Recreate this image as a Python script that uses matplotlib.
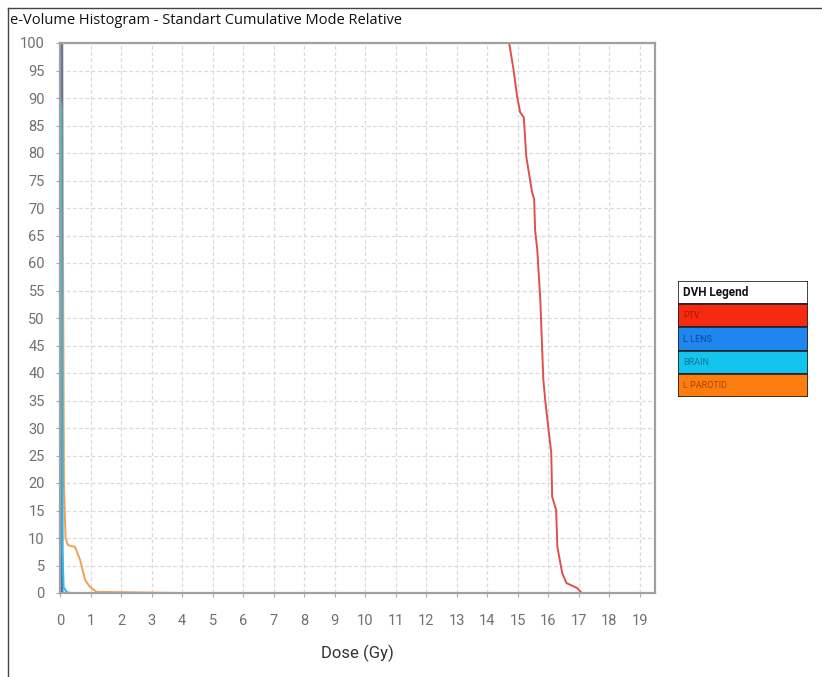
import matplotlib
matplotlib.use("Agg")
import matplotlib.pyplot as plt
from matplotlib.lines import Line2D
from matplotlib.patches import Rectangle

# Dose (Gy) / volume (%) points
ptv_dose = [14.72, 14.86, 14.98, 15.08, 15.2, 15.28, 15.47, 15.54, 15.57, 15.64,
            15.74, 15.84, 15.9, 16.0, 16.1, 16.13, 16.26, 16.3, 16.46, 16.6, 16.95, 17.1]
ptv_vol = [100, 95.3, 90.3, 87.4, 86.5, 79.4, 72.9, 71.6, 66, 62.5,
           53.4, 38.8, 35.2, 30.2, 25.5, 17.5, 15.1, 8.4, 3.6, 1.8, 0.9, 0]

lens_dose = [0.0, 0.05, 0.07, 0.3]
lens_vol = [100, 100, 0, 0]

brain_dose = [0.0, 0.05, 0.08, 0.12, 0.25]
brain_vol = [90, 88, 8, 1, 0]

parotid_dose = [0.08, 0.1, 0.13, 0.18, 0.26, 0.49, 0.66, 0.82, 0.98, 1.2, 4.0]
parotid_vol = [100, 60, 20, 10, 8.7, 8.4, 6.0, 2.4, 1.1, 0.2, 0]

legend_names = ["PTV", "L LENS", "BRAIN", "L PAROTID"]
legend_colors = ["#f52a10", "#1f86f0", "#14c4ee", "#ff7c10"]
legend_text_colors = ["#b01800", "#0a4a9a", "#0a7a9a", "#a84a00"]

x_ticks = list(range(0, 20))
y_ticks = list(range(0, 101, 5))

NARROW = ["Roboto", "DejaVu Sans"]

fig = plt.figure(figsize=(8.22, 6.77), dpi=100)

# outer frame
fig.add_artist(Line2D([8 / 822, 1], [1 - 8 / 677, 1 - 8 / 677], color="#444444", lw=1))
fig.add_artist(Line2D([8 / 822, 8 / 822], [0, 1 - 8 / 677], color="#444444", lw=1))
fig.text(10 / 822, 1 - 21 / 677, "e-Volume Histogram - Standart Cumulative Mode Relative",
         fontsize=10.5, family="Open Sans", va="center", ha="left", color="#111111")

ax = fig.add_axes([60 / 822, 1 - 593 / 677, 595 / 822, 550 / 677])
ax.plot(ptv_dose, ptv_vol, color="#e0504a", lw=1.4)
ax.plot(parotid_dose, parotid_vol, color="#f0a050", lw=1.4)
ax.plot(lens_dose, lens_vol, color="#3a78b8", lw=1.8)
ax.plot(brain_dose, brain_vol, color="#30b8e8", lw=1.4)

ax.set_xlim(0, 19.5)
ax.set_ylim(0, 100)
ax.set_xticks(x_ticks)
ax.set_yticks(y_ticks)
ax.grid(True, color="#dadada", ls=(0, (3, 2)), lw=0.9)
for s in ax.spines.values():
    s.set_color("#a0a0a0")
    s.set_linewidth(1.6)
ax.tick_params(colors="#aaaaaa", labelcolor="#707070", length=3, width=0.8,
               labelsize=10.5)
ax.tick_params(axis="x", pad=12)
ax.tick_params(axis="y", pad=8)
for lab in ax.get_xticklabels() + ax.get_yticklabels():
    lab.set_family(NARROW)
ax.set_xlabel("Dose (Gy)", fontsize=12, color="#333333", family=NARROW, labelpad=12)

# legend panel
lg = fig.add_axes([678 / 822, 1 - 397 / 677, 130 / 822, 116 / 677])
lg.set_xlim(0, 1)
lg.set_ylim(0, 5)
lg.invert_yaxis()
lg.axis("off")
lg.add_patch(Rectangle((0, 0), 1, 1, facecolor="white", edgecolor="#222222", lw=1.2))
lg.text(0.04, 0.5, "DVH Legend", fontsize=8.5, va="center", ha="left",
        family=NARROW, weight="bold", color="#111111")
for i, (name, c, tc) in enumerate(zip(legend_names, legend_colors, legend_text_colors)):
    lg.add_patch(Rectangle((0, i + 1), 1, 1, facecolor=c, edgecolor="#222222", lw=1.2))
    lg.text(0.04, i + 1.5, name, fontsize=6.5, va="center", ha="left",
            family=NARROW, color=tc)

fig.savefig("out.png", dpi=100)
